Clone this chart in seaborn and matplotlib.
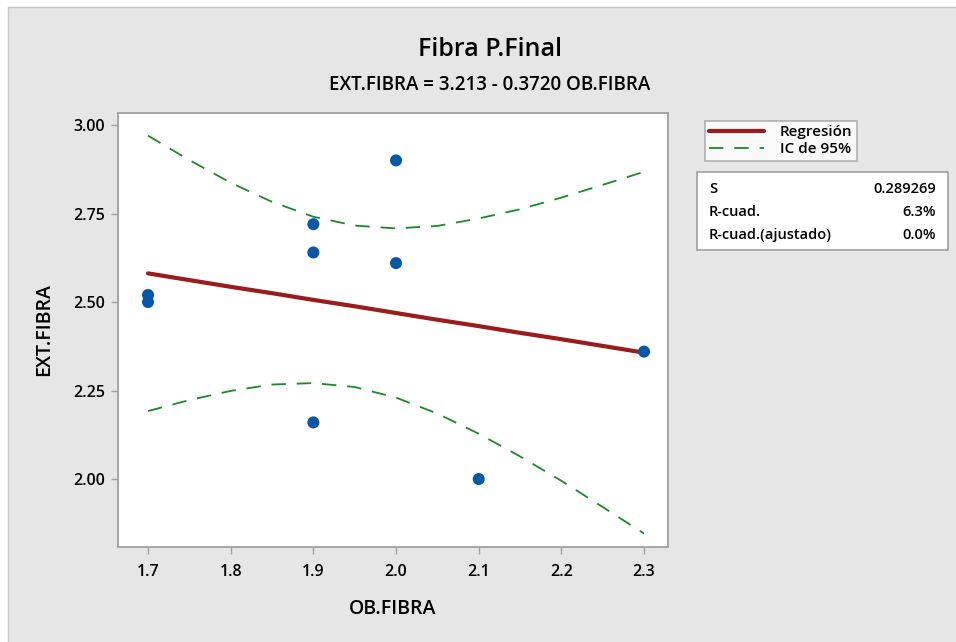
import matplotlib.pyplot as plt
import seaborn as sns
import pandas as pd
from matplotlib.patches import Rectangle
from matplotlib.lines import Line2D

# observed points
ob_fibra = [1.7, 1.7, 1.9, 1.9, 1.9, 2.0, 2.0, 2.1, 2.3]
ext_fibra = [2.52, 2.50, 2.72, 2.64, 2.16, 2.90, 2.61, 2.00, 2.36]

# fitted line and 95% CI
x_fit = [1.70, 1.75, 1.80, 1.85, 1.90, 1.95, 2.00, 2.05, 2.10, 2.15, 2.20, 2.25, 2.30]
y_fit = [2.581, 2.562, 2.543, 2.525, 2.506, 2.488, 2.469, 2.450, 2.432, 2.413, 2.395, 2.376, 2.357]
ci_upper = [2.970, 2.901, 2.837, 2.783, 2.741, 2.716, 2.708, 2.715, 2.736, 2.762, 2.795, 2.831, 2.868]
ci_lower = [2.192, 2.223, 2.249, 2.267, 2.271, 2.260, 2.230, 2.185, 2.128, 2.064, 1.995, 1.921, 1.846]

stat_names = ["S", "R-cuad.", "R-cuad.(ajustado)"]
stat_values = ["0.289269", "6.3%", "0.0%"]

pts = pd.DataFrame({"x": ob_fibra, "y": ext_fibra})
fit = pd.DataFrame({"x": x_fit, "fit": y_fit, "up": ci_upper, "lo": ci_lower})

sns.set_style("white")
plt.rcParams['font.family'] = ['Open Sans', 'DejaVu Sans']
plt.rcParams['text.color'] = 'black'
plt.rcParams['axes.labelcolor'] = 'black'
plt.rcParams['xtick.color'] = 'black'
plt.rcParams['ytick.color'] = 'black'

W = "semibold"
bg = "#e6e6e6"
dash = (0, (8, 6))
fig = plt.figure(figsize=(9.56, 6.42), dpi=100, facecolor=bg)
# white strip top / left like the screenshot
fig.patches.append(Rectangle((0, 1 - 7 / 642), 1, 7 / 642, transform=fig.transFigure,
                             facecolor="white", edgecolor="none", zorder=-1))
fig.patches.append(Rectangle((0, 0), 8 / 956, 1, transform=fig.transFigure,
                             facecolor="white", edgecolor="none", zorder=-1))
fig.lines.append(Line2D([8 / 956, 1], [1 - 7 / 642] * 2, transform=fig.transFigure,
                        color="#c8c8c8", lw=1))
fig.lines.append(Line2D([8 / 956] * 2, [0, 1 - 7 / 642], transform=fig.transFigure,
                        color="#c8c8c8", lw=1))

ax = fig.add_axes([118 / 956, 95 / 642, 550 / 956, 434 / 642])
ax.set_facecolor("white")

sns.lineplot(data=fit, x="x", y="up", ax=ax, color="#1a8a2a", lw=1.3, linestyle=dash)
sns.lineplot(data=fit, x="x", y="lo", ax=ax, color="#1a8a2a", lw=1.3, linestyle=dash)
sns.lineplot(data=fit, x="x", y="fit", ax=ax, color="#9b1c1c", lw=3)
sns.scatterplot(data=pts, x="x", y="y", ax=ax, color="#0557a8", s=75,
                edgecolor="none", zorder=5)

ax.set_xlim(1.6637, 2.329)
ax.set_ylim(1.808, 3.034)
ax.set_xticks([1.7, 1.8, 1.9, 2.0, 2.1, 2.2, 2.3])
ax.set_xticklabels(["1.7", "1.8", "1.9", "2.0", "2.1", "2.2", "2.3"])
ax.set_yticks([2.00, 2.25, 2.50, 2.75, 3.00])
ax.set_yticklabels(["2.00", "2.25", "2.50", "2.75", "3.00"])
ax.tick_params(axis="both", direction="out", length=5, width=1, color="#a0a0a0",
               labelsize=11.5, labelcolor="black", pad=4, bottom=True, left=True)
ax.tick_params(axis="x", pad=7)
for lab in ax.get_xticklabels() + ax.get_yticklabels():
    lab.set_fontweight(W)
for sp in ax.spines.values():
    sp.set_color("#a0a0a0")
    sp.set_linewidth(1.3)

ax.set_xlabel("OB.FIBRA", fontsize=14, labelpad=14, fontweight=W)
ax.set_ylabel("EXT.FIBRA", fontsize=14, labelpad=14, fontweight=W)

fig.text(490 / 956, 1 - 50 / 642, "Fibra P.Final", ha="center", va="center",
         fontsize=18, fontweight=W)
fig.text(490 / 956, 1 - 85 / 642, "EXT.FIBRA = 3.213 - 0.3720 OB.FIBRA",
         ha="center", va="center", fontsize=13.5, fontweight=W)

# legend box
handles = [Line2D([], [], color="#9b1c1c", lw=3),
           Line2D([], [], color="#1a8a2a", lw=1.3, linestyle=dash)]
leg = fig.legend(handles, ["Regresión", "IC de 95%"], loc="upper left",
                 bbox_to_anchor=(697 / 956, 1 - 113 / 642),
                 prop={"size": 11, "weight": W},
                 frameon=True, fancybox=False, edgecolor="#a0a0a0",
                 handlelength=3.6, borderpad=0.3, labelspacing=0.2, handletextpad=1.0)
leg.get_frame().set_linewidth(1.2)

# stats box
x0, x1 = 697 / 956, 948 / 956
y0, y1 = 1 - 250 / 642, 1 - 172 / 642
fig.patches.append(Rectangle((x0, y0), x1 - x0, y1 - y0, transform=fig.transFigure,
                             facecolor="white", edgecolor="#a0a0a0", lw=1.2))
for i, (name, val) in enumerate(zip(stat_names, stat_values)):
    yy = 1 - (189 + i * 23) / 642
    fig.text(709 / 956, yy, name, ha="left", va="center", fontsize=10.5, fontweight=W)
    fig.text(936 / 956, yy, val, ha="right", va="center", fontsize=10.5, fontweight=W)

fig.savefig("out.png", dpi=100, facecolor=bg)
